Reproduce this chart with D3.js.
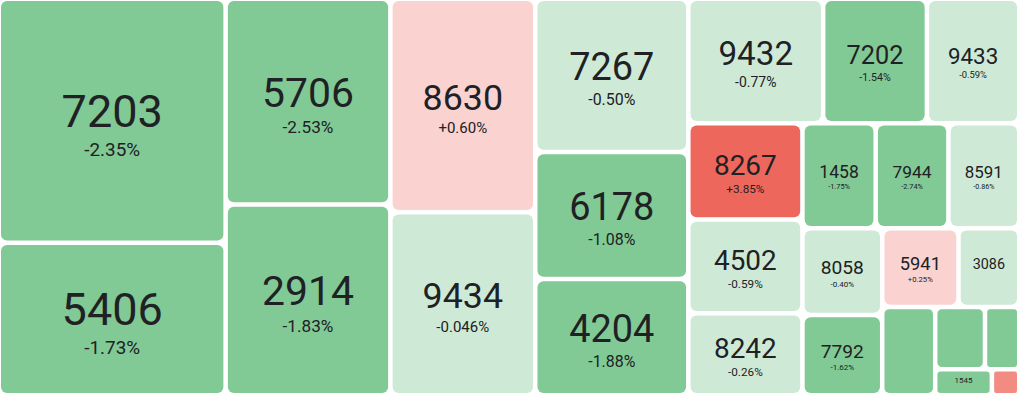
<!DOCTYPE html>
<html>
<head>
<meta charset="utf-8">
<script src="https://cdn.jsdelivr.net/npm/d3@7"></script>
<style>
  html, body { margin: 0; padding: 0; background: #fff; }
  svg { display: block; }
  .code, .chg { font-family: Roboto, "Noto Sans", sans-serif; fill: #202124; text-anchor: middle; }
</style>
</head>
<body>
<div id="heatmap"></div>
<script>
// tickers, size of each tile, day change in %
var codes   = ["7203","5406","5706","2914","8630","9434","7267","6178","4204",
               "9432","7202","9433","8267","4502","8242","1458","7944","8591",
               "8058","7792","5941","3086","6301","8001","8316","1545","6758"];
var sizes   = [54.4, 34.0, 33.3, 30.9, 30.4, 26.05, 23.05, 19.1, 17.5,
               16.5, 12.7, 11.3, 10.8, 10.5, 9.2, 7.55, 7.5, 7.3,
               6.8, 6.3, 5.9, 4.7, 4.6, 3.05, 2.1, 1.45, 0.7];
var changes = [-2.35, -1.73, -2.53, -1.83, 0.60, -0.046, -0.50, -1.08, -1.88,
               -0.77, -1.54, -0.59, 3.85, -0.59, -0.26, -1.75, -2.74, -0.86,
               -0.40, -1.62, 0.25, -0.35, -1.30, -1.45, -1.20, -1.10, 2.10];

var width = 1017, height = 394;

var color = d3.scaleThreshold()
    .domain([-1, 0, 1, 3])
    .range(["#81c995", "#ceead6", "#fad2cf", "#f28b82", "#ee675c"]);

function fmt(v)
{
    var s = Math.abs(v) < 0.1 ? v.toFixed(3) : v.toFixed(2);
    return (v > 0 ? "+" : "") + s + "%";
}

var items = codes.map(function(c, i) {
    return {code: c, size: sizes[i], change: changes[i]};
});

var root = d3.hierarchy({children: items})
    .sum(function(d) { return d.size || 0; })
    .sort(function(a, b) { return b.value - a.value; });

d3.treemap()
    .tile(d3.treemapSquarify.ratio(1))
    .size([width - 1, height - 2])
    .paddingInner(4.5)
    (root);

var svg = d3.select("#heatmap").append("svg")
    .attr("width", width)
    .attr("height", height)
    .append("g")
    .attr("transform", "translate(1,1)");

var cell = svg.selectAll("g.cell")
    .data(root.leaves())
    .enter()
    .append("g")
    .attr("class", "cell")
    .attr("transform", function(d) { return "translate(" + d.x0 + "," + d.y0 + ")"; });

cell.append("rect")
    .attr("width", function(d) { return d.x1 - d.x0; })
    .attr("height", function(d) { return d.y1 - d.y0; })
    .attr("rx", function(d) { return Math.min(6, (d.x1 - d.x0) * 0.1, (d.y1 - d.y0) * 0.15); })
    .style("fill", function(d) { return color(d.data.change); });

cell.each(function(d) {
    var w = d.x1 - d.x0, h = d.y1 - d.y0;
    if (w < 50) return;
    var f = Math.min(45, w * 0.255, h * 0.37);
    var cx = w / 2, cy = h / 2;
    var g = d3.select(this);
    g.append("text")
        .attr("class", "code")
        .attr("x", cx)
        .attr("y", cy + 0.13 * f)
        .style("font-size", f + "px")
        .text(d.data.code);
    var pf = f * 0.42;
    if (pf >= 6.5)
    {
        g.append("text")
            .attr("class", "chg")
            .attr("x", cx)
            .attr("y", cy + 0.13 * f + 0.65 * f)
            .style("font-size", pf + "px")
            .text(fmt(d.data.change));
    }
});
</script>
</body>
</html>
